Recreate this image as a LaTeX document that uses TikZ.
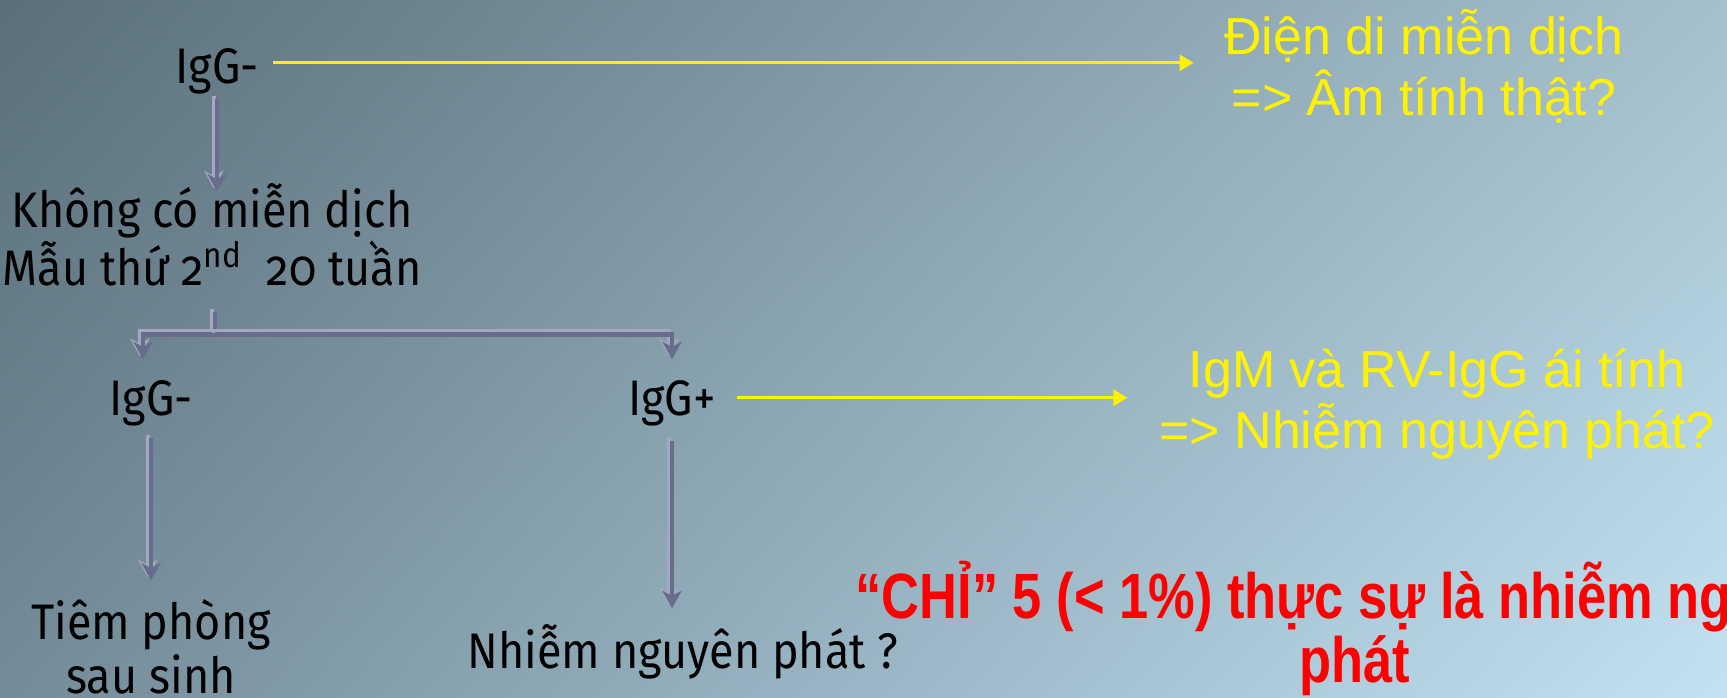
\documentclass[tikz,border=0pt]{standalone}
\usepackage{fontspec}
\setmainfont{Fira Sans}[Numbers=OldStyle,FakeStretch=0.9]
\newfontfamily\arialfont{Liberation Sans}
\newfontfamily\narrowfont{Liberation Sans}[FakeStretch=0.82]
\usetikzlibrary{arrows.meta,shadings}
\definecolor{bgtl}{HTML}{5A6F7A}
\definecolor{bgtr}{HTML}{A5C0CC}
\definecolor{bgbl}{HTML}{748C98}
\definecolor{bgbr}{HTML}{C2E2F2}
\definecolor{arrowgray}{HTML}{666E8C}
\definecolor{arrowlight}{HTML}{A2A8C0}
\begin{document}
\begin{tikzpicture}[x=0.01cm, y=-0.01cm,
  txt/.style={inner sep=0pt, anchor=base, align=center, font=\fontsize{14.2}{15.6}\selectfont},
  yel/.style={inner sep=0pt, anchor=base, align=center, text=yellow, font=\arialfont\fontsize{14.8}{17.6}\selectfont},
  warn/.style={inner sep=0pt, anchor=base, align=center, text=red, font=\narrowfont\bfseries\fontsize{18.2}{14.2}\selectfont},
  stem/.style={draw=arrowgray, line width=1.3pt,
    preaction={draw=arrowlight, line width=1.3pt, transform canvas={shift={(-0.9pt,0.9pt)}}}},
  flow/.style={stem, -{Stealth[length=5pt,width=5.5pt,inset=1.5pt]}},
  yarrow/.style={draw=yellow, line width=0.85pt, -{Triangle[length=4pt,width=4.5pt]}}]

% nền
\useasboundingbox (0,0) rectangle (1727,698);
\shade[upper left=bgtl, upper right=bgtr, lower left=bgbl, lower right=bgbr] (0,0) rectangle (1727,698);
\clip (0,0) rectangle (1727,698);

% các nút (base = dòng cuối)
\node[txt] (igg1) at (217,84) {IgG-};
\node[yel] (dien) at (1424,116) {Điện di miễn dịch\\=> Âm tính thật?};
\node[txt] (khong) at (212,286) {Không có miễn dịch\\Mẫu thứ 2\textsuperscript{nd}\ \ 20 tuần};
\node[txt] (iggneg) at (151,416) {IgG-};
\node[txt] (iggpos) at (672,416) {IgG+};
\node[yel] (igm) at (1437,449) {IgM và RV-IgG ái tính\\=> Nhiễm nguyên phát?};
\node[txt] (tiem) at (151,694) {Tiêm phòng\\sau sinh};
\node[txt] (nhiem) at (683,669) {Nhiễm nguyên phát ?};
\node[warn] (chi) at (1355,683) {“CHỈ” 5 (< 1\%) thực sự là nhiễm nguyên\\phát};

% mũi tên vàng
\draw[yarrow, shorten <=0.14cm, shorten >=0.3cm]
  ([yshift=0.09cm]igg1.east) -- ([yshift=0.09cm]igg1.east -| dien.west);
\draw[yarrow, shorten <=0.21cm, shorten >=0.31cm]
  ([yshift=0.06cm]iggpos.east) -- ([yshift=0.06cm]iggpos.east -| igm.west);

% mũi tên xám
\draw[flow, shorten <=0.04cm, shorten >=-0.09cm] (igg1.south) -- (igg1.south |- khong.north);
\path (khong.south) ++(3,47) coordinate (fork);
\draw[stem, shorten <=0.25cm] (khong.south -| fork) -- (fork);
\draw[flow, shorten >=0.21cm] (fork) -| ([xshift=-0.08cm]iggneg.north);
\draw[flow, shorten >=0.21cm] (fork) -| (iggpos.north);
\draw[flow, shorten <=0.11cm, shorten >=0.18cm] (iggneg.south) -- (tiem.north);
\draw[flow, shorten <=0.14cm, shorten >=0.16cm] (iggpos.south) -- (iggpos.south |- nhiem.north);
\end{tikzpicture}
\end{document}
